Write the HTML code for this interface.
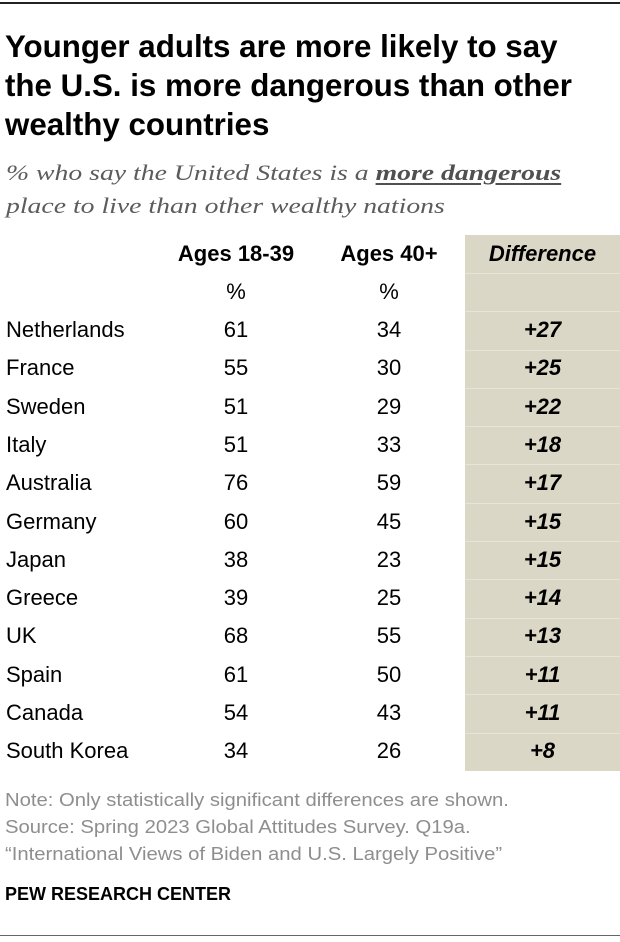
<!DOCTYPE html>
<html>
<head>
<meta charset="utf-8">
<style>
  html, body { margin:0; padding:0; background:#fff; }
  body { width:620px; height:942px; position:relative; overflow:hidden; font-family:"Liberation Sans", Arial, sans-serif; color:#000; }
  .abs { position:absolute; white-space:nowrap; }
  .topline { position:absolute; left:0; top:2px; width:620px; height:2px; background:#222; }
  .botline { position:absolute; left:0; top:935px; width:620px; height:1px; background:#666; }
  .title { left:5px; top:26.6px; font-size:31.3px; line-height:39px; font-weight:bold; color:#000; }
  .sub { left:6px; top:156px; font-family:"Liberation Serif", serif; font-style:italic; font-size:22px; line-height:33px; color:#5c5c5c; transform-origin:0 0; transform:scaleX(1.26); }
  .sub b { font-weight:bold; color:#505050; text-decoration:underline; text-decoration-thickness:2px; text-underline-offset:3px; }
  .diffbg { position:absolute; left:465px; top:235px; width:155px; height:536px; background:#dbd7c7; }
  .sep { position:absolute; left:465px; width:155px; height:1px; background:#e7e4d8; }
  .row { position:absolute; left:0; width:620px; height:38.29px; font-size:22px; line-height:38.29px; }
  .row .c { position:absolute; left:6px; }
  .row .a { position:absolute; left:176px; width:120px; text-align:center; }
  .row .b { position:absolute; left:329px; width:120px; text-align:center; }
  .row .d { position:absolute; left:465px; width:155px; text-align:center; font-weight:bold; font-style:italic; }
  .hdr .a, .hdr .b { font-weight:bold; }
  .note { left:5px; top:786.8px; font-size:18px; line-height:27px; color:#8e8e8e; transform-origin:0 0; transform:scaleX(1.125); }
  .pew { left:5px; top:882.8px; font-size:18px; line-height:22px; font-weight:bold; color:#000; }
</style>
</head>
<body>
<div class="topline"></div>

<div class="abs title">Younger adults are more likely to say<br>the U.S. is more dangerous than other<br>wealthy countries</div>

<div class="abs sub">% who say the United States is a <b>more dangerous</b><br>place to live than other wealthy nations</div>

<div class="diffbg"></div>
<div class="sep" style="top:273px"></div>
<div class="sep" style="top:311px"></div>
<div class="sep" style="top:350px"></div>
<div class="sep" style="top:388px"></div>
<div class="sep" style="top:426px"></div>
<div class="sep" style="top:464px"></div>
<div class="sep" style="top:503px"></div>
<div class="sep" style="top:541px"></div>
<div class="sep" style="top:579px"></div>
<div class="sep" style="top:618px"></div>
<div class="sep" style="top:656px"></div>
<div class="sep" style="top:694px"></div>
<div class="sep" style="top:733px"></div>

<div class="row hdr" style="top:234.5px"><span class="a">Ages 18-39</span><span class="b">Ages 40+</span><span class="d">Difference</span></div>
<div class="row" style="top:272.8px"><span class="a">%</span><span class="b">%</span></div>
<div class="row" style="top:311.1px"><span class="c">Netherlands</span><span class="a">61</span><span class="b">34</span><span class="d">+27</span></div>
<div class="row" style="top:349.4px"><span class="c">France</span><span class="a">55</span><span class="b">30</span><span class="d">+25</span></div>
<div class="row" style="top:387.7px"><span class="c">Sweden</span><span class="a">51</span><span class="b">29</span><span class="d">+22</span></div>
<div class="row" style="top:425.9px"><span class="c">Italy</span><span class="a">51</span><span class="b">33</span><span class="d">+18</span></div>
<div class="row" style="top:464.2px"><span class="c">Australia</span><span class="a">76</span><span class="b">59</span><span class="d">+17</span></div>
<div class="row" style="top:502.5px"><span class="c">Germany</span><span class="a">60</span><span class="b">45</span><span class="d">+15</span></div>
<div class="row" style="top:540.8px"><span class="c">Japan</span><span class="a">38</span><span class="b">23</span><span class="d">+15</span></div>
<div class="row" style="top:579.1px"><span class="c">Greece</span><span class="a">39</span><span class="b">25</span><span class="d">+14</span></div>
<div class="row" style="top:617.4px"><span class="c">UK</span><span class="a">68</span><span class="b">55</span><span class="d">+13</span></div>
<div class="row" style="top:655.7px"><span class="c">Spain</span><span class="a">61</span><span class="b">50</span><span class="d">+11</span></div>
<div class="row" style="top:694.0px"><span class="c">Canada</span><span class="a">54</span><span class="b">43</span><span class="d">+11</span></div>
<div class="row" style="top:732.3px"><span class="c">South Korea</span><span class="a">34</span><span class="b">26</span><span class="d">+8</span></div>

<div class="abs note">Note: Only statistically significant differences are shown.<br>Source: Spring 2023 Global Attitudes Survey. Q19a.<br>“International Views of Biden and U.S. Largely Positive”</div>

<div class="abs pew">PEW RESEARCH CENTER</div>

<div class="botline"></div>
</body>
</html>
